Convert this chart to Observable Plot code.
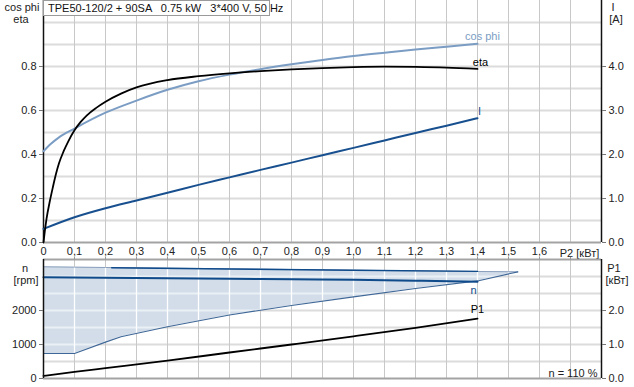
<!DOCTYPE html>
<html><head><meta charset="utf-8">
<script src="https://cdn.jsdelivr.net/npm/d3@7"></script>
<script src="https://cdn.jsdelivr.net/npm/@observablehq/plot@0.6"></script>
<style>
body{margin:0;background:#fff;font-family:"Liberation Sans",Arial,sans-serif;}
#chart{position:relative;width:634px;height:387px;overflow:hidden;background:#fff;}
#chart svg{position:absolute;left:0;}
.lbl{position:absolute;font-size:11px;color:#222;line-height:12px;white-space:nowrap;transform:translateX(-50%);}
.title{position:absolute;left:43px;top:0;width:221px;height:14px;padding:0 0 0 4px;border:1px solid #9a9a9a;background:#fff;font-size:11px;line-height:14px;color:#111;white-space:pre;z-index:2;}
</style></head><body><div id="chart"></div>
<script>
// ---------- data ----------
const titleText = "TPE50-120/2 + 90SA   0.75 kW   3*400 V, 50 Hz";
const xTicks = [0, 0.1, 0.2, 0.3, 0.4, 0.5, 0.6, 0.7, 0.8, 0.9, 1.0, 1.1, 1.2, 1.3, 1.4, 1.5, 1.6];
const xGrid = [0.1, 0.2, 0.3, 0.4, 0.5, 0.6, 0.7, 0.8, 0.9, 1.0, 1.1, 1.2, 1.3, 1.4, 1.5, 1.6, 1.7];
const yTopTicks = [0, 0.2, 0.4, 0.6, 0.8];
const yTopGrid = [0.1, 0.2, 0.3, 0.4, 0.5, 0.6, 0.7, 0.8, 0.9, 1.0];
const yBotTicks = [0, 1000, 2000];
const yBotGrid = [500, 1000, 1500, 2000, 2500, 3000];

// eta (efficiency) vs P2 [kW]
const etaP2 = [0, 0.005, 0.01, 0.02, 0.03, 0.04, 0.05, 0.065, 0.08, 0.1, 0.12, 0.14, 0.17, 0.2, 0.25, 0.3, 0.4, 0.5, 0.6, 0.7, 0.8, 0.9, 1.0, 1.1, 1.2, 1.3, 1.4];
const eta   = [0, 0.06, 0.11, 0.185, 0.25, 0.31, 0.36, 0.415, 0.46, 0.51, 0.548, 0.578, 0.612, 0.64, 0.677, 0.705, 0.738, 0.756, 0.769, 0.779, 0.787, 0.793, 0.797, 0.799, 0.798, 0.795, 0.789];

// cos phi vs P2
const cosP2  = [0, 0.025, 0.05, 0.1, 0.2, 0.3, 0.4, 0.5, 0.6, 0.7, 0.8, 0.9, 1.0, 1.1, 1.2, 1.3, 1.4];
const cosPhi = [0.415, 0.45, 0.478, 0.518, 0.59, 0.645, 0.694, 0.733, 0.763, 0.788, 0.81, 0.83, 0.848, 0.863, 0.877, 0.89, 0.903];

// I [A] vs P2
const curP2 = [0, 0.1, 0.2, 0.3, 0.4, 0.5, 0.6, 0.7, 0.8, 0.9, 1.0, 1.1, 1.2, 1.3, 1.4];
const curI  = [0.31, 0.575, 0.78, 0.955, 1.13, 1.31, 1.48, 1.65, 1.815, 1.985, 2.15, 2.32, 2.49, 2.655, 2.825];

// speed range (min / max) [rpm] vs P2
const rangeP2 = [0, 0.1, 0.2, 0.25, 0.4, 0.6, 0.8, 1.0, 1.2, 1.4, 1.53];
const rangeMax = [3285, 3275, 3265, 3260, 3245, 3225, 3205, 3185, 3165, 3148, 3137];
const rangeMin = [735, 735, 1070, 1230, 1520, 1870, 2145, 2400, 2645, 2870, 3137];

// dark upper speed line
const topP2 = [0.22, 0.6, 1.0, 1.4];
const topN  = [3256, 3222, 3186, 3150];

// n [rpm] vs P2
const nP2 = [0, 0.2, 0.4, 0.6, 0.8, 1.0, 1.2, 1.4];
const nRpm = [2975, 2962, 2948, 2933, 2920, 2905, 2878, 2845];

// P1 [kW] vs P2
const p1P2 = [0, 0.1, 0.2, 0.4, 0.6, 0.8, 1.0, 1.2, 1.4];
const p1   = [0.075, 0.195, 0.305, 0.525, 0.765, 1.0, 1.24, 1.49, 1.76];

// ---------- styles ----------
const font = "Liberation Sans, Arial, sans-serif";
const cCos = "#7b9dc4", cI = "#18508f", cN = "#0f4a8a";
const fmtX = d => d === 0 ? "0" : d.toFixed(1).replace(".", ",");

const topPlot = Plot.plot({
  width: 634, height: 259,
  marginLeft: 43, marginRight: 33, marginTop: 0, marginBottom: 17,
  style: {fontFamily: font, fontSize: "11px", color: "#222", background: "transparent", overflow: "visible"},
  x: {domain: [0, 1.8]},
  y: {domain: [0, 1.1]},
  marks: [
    Plot.ruleY(yTopGrid, {stroke: "#dcdcdc", strokeWidth: 2}),
    Plot.ruleX(xGrid, {stroke: "#c8c8c8", strokeWidth: 1}),
    Plot.ruleY([0], {stroke: "#a3a3a3", strokeWidth: 2}),
    Plot.ruleX([0], {stroke: "#111", strokeWidth: 1.5}),
    Plot.ruleX([1.8], {stroke: "#111", strokeWidth: 1.5}),
    Plot.axisX({ticks: xTicks, tickSize: 0, tickPadding: 5, tickFormat: fmtX, label: null, fill: "#222"}),
    Plot.text(["P2 [кВт]"], {x: [1.7], y: [0], dx: 9, dy: 11, fill: "#222"}),
    Plot.axisY({anchor: "left", ticks: yTopTicks, tickSize: 4, tickPadding: 3, tickFormat: d => d.toFixed(1), label: null, stroke: "#777", fill: "#222"}),
    Plot.axisY({anchor: "right", ticks: yTopTicks, tickSize: 4, tickPadding: 3, tickFormat: d => (d * 5).toFixed(1), label: null, stroke: "#777", fill: "#222"}),
    Plot.line(cosPhi, {x: cosP2, y: cosPhi, stroke: cCos, strokeWidth: 2, curve: "monotone-x"}),
    Plot.line(curI, {x: curP2, y: curI.map(v => v / 5), stroke: cI, strokeWidth: 2, curve: "monotone-x"}),
    Plot.line(eta, {x: etaP2, y: eta, stroke: "#000", strokeWidth: 1.8, curve: "monotone-x"}),
    Plot.text(["cos phi"], {x: [cosP2.at(-1)], y: [cosPhi.at(-1)], dx: 5, dy: -7, fill: cCos}),
    Plot.text(["eta"], {x: [etaP2.at(-1)], y: [eta.at(-1)], dx: 3, dy: -6, fill: "#000"}),
    Plot.text(["I"], {x: [curP2.at(-1)], y: [curI.at(-1) / 5], dx: 2, dy: -7, fill: cI})
  ]
});

const botPlot = Plot.plot({
  width: 634, height: 132,
  marginLeft: 43, marginRight: 33, marginTop: 4, marginBottom: 9,
  style: {fontFamily: font, fontSize: "11px", color: "#222", background: "transparent", overflow: "visible"},
  x: {domain: [0, 1.8]},
  y: {domain: [0, 3500]},
  marks: [
    Plot.ruleY(yBotGrid, {stroke: "#dcdcdc", strokeWidth: 2}),
    Plot.ruleX(xGrid, {stroke: "#c8c8c8", strokeWidth: 1}),
    Plot.areaY(rangeP2, {x: rangeP2, y1: rangeMin, y2: rangeMax, fill: "#d2dde9"}),
    Plot.ruleX(xGrid, {stroke: "white", strokeWidth: 1.3}),
    Plot.ruleY(yBotGrid, {stroke: "white", strokeWidth: 2, strokeOpacity: 0.55}),
    Plot.line(rangeMax, {x: rangeP2, y: rangeMax, stroke: "#8aa0bd", strokeWidth: 1}),
    Plot.line(rangeMin, {x: rangeP2, y: rangeMin, stroke: "#3f6797", strokeWidth: 1.1}),
    Plot.line(topN, {x: topP2, y: topN, stroke: cN, strokeWidth: 1.4}),
    Plot.line(nRpm, {x: nP2, y: nRpm, stroke: cN, strokeWidth: 2, curve: "monotone-x"}),
    Plot.line(p1, {x: p1P2, y: p1.map(v => v * 1000), stroke: "#000", strokeWidth: 1.8, curve: "monotone-x"}),
    Plot.ruleY([0], {stroke: "#a3a3a3", strokeWidth: 2}),
    Plot.ruleY([3500], {stroke: "#a3a3a3", strokeWidth: 2}),
    Plot.ruleX([0], {stroke: "#111", strokeWidth: 1.5}),
    Plot.ruleX([1.8], {stroke: "#111", strokeWidth: 1.5}),
    Plot.axisX({anchor: "top", ticks: xGrid, tickSize: 3, tickFormat: () => "", label: null, stroke: "#999"}),
    Plot.axisY({anchor: "left", ticks: yBotTicks, tickSize: 4, tickPadding: 3, tickFormat: d => String(d), label: null, stroke: "#777", fill: "#222"}),
    Plot.axisY({anchor: "right", ticks: yBotTicks, tickSize: 4, tickPadding: 3, tickFormat: d => (d / 1000).toFixed(1), label: null, stroke: "#777", fill: "#222"}),
    Plot.text(["n"], {x: [nP2.at(-1)], y: [nRpm.at(-1)], dx: -4, dy: 9, fill: cN}),
    Plot.text(["P1"], {x: [p1P2.at(-1)], y: [p1.at(-1) * 1000], dx: 0, dy: -9, fill: "#000"}),
    Plot.text(["n = 110 %"], {frameAnchor: "bottom-right", textAnchor: "end", lineAnchor: "bottom", dx: -4, dy: -2, fill: "#222"})
  ]
});

// white grid visible only inside the speed-range area
(function () {
  const svg = d3.select(botPlot);
  const area = svg.select('g[aria-label="area"] path');
  if (!area.empty()) {
    const id = "rangeClip";
    svg.insert("defs", ":first-child").append("clipPath").attr("id", id)
      .append("path").attr("d", area.attr("d"));
    svg.selectAll('g[aria-label="rule"]').filter(function () {
      return this.getAttribute("stroke") === "white";
    }).attr("clip-path", `url(#${id})`);
  }
})();

const chart = document.getElementById("chart");
topPlot.style.top = "0px";
botPlot.style.top = "255px";
chart.appendChild(topPlot);
chart.appendChild(botPlot);

const t = document.createElement("div");
t.className = "title"; t.textContent = titleText;
chart.appendChild(t);

const labels = [
  ["cos phi", 22, 1], ["eta", 21, 13],
  ["I", 613, 1], ["[A]", 616, 13],
  ["n", 25, 262], ["[rpm]", 26, 274],
  ["P1", 614, 262], ["[кВт]", 617, 274]
];
for (const [txt, x, y] of labels) {
  const d = document.createElement("div");
  d.className = "lbl"; d.textContent = txt;
  d.style.left = x + "px"; d.style.top = y + "px";
  chart.appendChild(d);
}
</script>
</body></html>
